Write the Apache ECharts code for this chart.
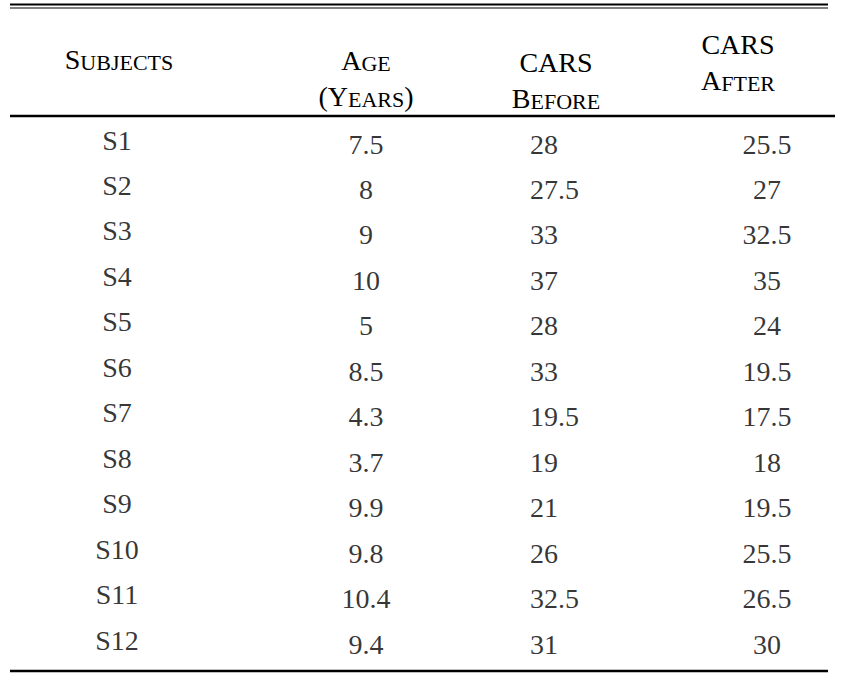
<!DOCTYPE html>
<html>
<head>
<meta charset="utf-8">
<script src="https://cdn.jsdelivr.net/npm/echarts@6/dist/echarts.min.js"></script>
<style>
  html, body { margin: 0; padding: 0; background: #fff; }
  #main { width: 843px; height: 681px; }
</style>
</head>
<body>
<div id="main"></div>
<script>
// table data
var subjects   = ['S1', 'S2', 'S3', 'S4', 'S5', 'S6', 'S7', 'S8', 'S9', 'S10', 'S11', 'S12'];
var ageYears   = [7.5, 8, 9, 10, 5, 8.5, 4.3, 3.7, 9.9, 9.8, 10.4, 9.4];
var carsBefore = [28, 27.5, 33, 37, 28, 33, 19.5, 19, 21, 26, 32.5, 31];
var carsAfter  = [25.5, 27, 32.5, 35, 24, 19.5, 17.5, 18, 19.5, 25.5, 26.5, 30];

var FONT = 'Liberation Serif';

// column layout (centre x, text align, small vertical shift)
var columns = [
    { key: 'subjects', values: subjects,   x: 117, align: 'center', dy: 0 },
    { key: 'age',      values: ageYears,   x: 366, align: 'center', dy: 4 },
    { key: 'before',   values: carsBefore, x: 530, align: 'left',   dy: 4 },
    { key: 'after',    values: carsAfter,  x: 767, align: 'center', dy: 4 }
];
var rowTop = 140, rowBottom = 640;

// header texts, small caps done with rich text
var headers = [
    { text: '{b|S}{s|UBJECTS}', x: 119, y: 55 },
    { text: '{b|A}{s|GE}\n{b|(Y}{s|EARS}{b|)}', x: 366, y: 74 },
    { text: '{b|CARS}\n{b|B}{s|EFORE}', x: 556, y: 76 },
    { text: '{b|CARS}\n{b|A}{s|FTER}', x: 738, y: 58 }
];

var myChart = echarts.init(document.getElementById('main'), null, { renderer: 'svg' });

var grids = [], xAxes = [], yAxes = [], series = [];
columns.forEach(function (col, i) {
    grids.push({
        left: col.x - 50,
        width: 100,
        top: rowTop + col.dy,
        height: rowBottom - rowTop
    });
    xAxes.push({ type: 'category', gridIndex: i, data: [col.key], boundaryGap: true, show: false });
    yAxes.push({ type: 'category', gridIndex: i, data: subjects, inverse: true, boundaryGap: false, show: false });
    series.push({
        type: 'scatter',
        xAxisIndex: i,
        yAxisIndex: i,
        symbolSize: 1,
        silent: true,
        itemStyle: { color: 'rgba(0,0,0,0)' },
        label: {
            show: true,
            position: 'inside',
            align: col.align,
            verticalAlign: 'middle',
            color: '#000',
            fontFamily: FONT,
            fontSize: 28,
            formatter: function (p) { return String(p.value[2]); }
        },
        data: subjects.map(function (s, j) { return [col.key, s, col.values[j]]; })
    });
});

var rich = {
    b: { fontFamily: FONT, fontSize: 28, lineHeight: 36, verticalAlign: 'bottom', color: '#000' },
    s: { fontFamily: FONT, fontSize: 22, lineHeight: 32, verticalAlign: 'bottom', color: '#000' }
};

var graphics = [
    // double rule on top
    { type: 'line', shape: { x1: 10, y1: 4.5, x2: 828, y2: 4.5 }, style: { stroke: '#000', lineWidth: 2 } },
    { type: 'line', shape: { x1: 10, y1: 8, x2: 828, y2: 8 }, style: { stroke: '#000', lineWidth: 1 } },
    // rule under header
    { type: 'line', shape: { x1: 10, y1: 116, x2: 835, y2: 116 }, style: { stroke: '#000', lineWidth: 2.5 } },
    // bottom rule
    { type: 'line', shape: { x1: 10, y1: 671, x2: 828, y2: 671 }, style: { stroke: '#000', lineWidth: 2.5 } }
];
headers.forEach(function (h) {
    graphics.push({
        type: 'text',
        x: h.x,
        y: h.y,
        style: {
            text: h.text,
            rich: rich,
            align: 'center',
            verticalAlign: 'middle',
            fill: '#000'
        }
    });
});

var option = {
    backgroundColor: '#fff',
    animation: false,
    grid: grids,
    xAxis: xAxes,
    yAxis: yAxes,
    series: series,
    graphic: graphics
};
myChart.setOption(option);
</script>
</body>
</html>
